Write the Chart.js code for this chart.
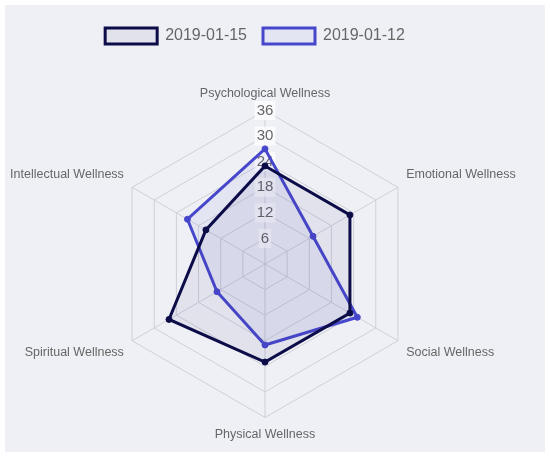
<!DOCTYPE html>
<html>
<head>
<meta charset="utf-8">
<script src="https://cdn.jsdelivr.net/npm/chart.js@4"></script>
<style>
  body { margin: 0; background: #fff; }
  #wrap { position: absolute; left: 5px; top: 5px; width: 540px; height: 447px; background: #eff0f6; }
</style>
</head>
<body>
<div id="wrap"><canvas id="radar"></canvas></div>
<script>
const categories = ["Psychological Wellness", "Emotional Wellness", "Social Wellness",
  "Physical Wellness", "Spiritual Wellness", "Intellectual Wellness"];
const seriesNames = ["2019-01-15", "2019-01-12"];
const values0115 = [23, 23, 23, 23, 26, 16];
const values0112 = [27, 13, 25, 19, 13, 21];
const tickMax = 36;
const tickStep = 6;

const ctx = document.getElementById("radar").getContext("2d");
const FONT = "Helvetica, Arial, 'Liberation Sans'";

// extra room under the legend, and nudge it a bit left
const legendSpacer = {
  id: "legendSpacer",
  beforeInit(chart) {
    const fit = chart.legend.fit;
    chart.legend.fit = function () {
      fit.bind(chart.legend)();
      this.height += 32;
    };
  },
  afterLayout(chart) {
    chart.legend.left -= 8;
    chart.legend.right -= 8;
  }
};

const radar = new Chart(ctx, {
  type: "radar",
  data: {
    labels: categories,
    datasets: [{
      label: seriesNames[0],
      data: values0115,
      borderColor: "#0c0c48",
      backgroundColor: "rgba(40,40,110,0.07)",
      pointBackgroundColor: "#0c0c48",
      borderWidth: 3,
      pointRadius: 3,
      pointBorderWidth: 1
    }, {
      label: seriesNames[1],
      data: values0112,
      borderColor: "#4747cc",
      backgroundColor: "rgba(71,71,204,0.06)",
      pointBackgroundColor: "#4747cc",
      borderWidth: 3,
      pointRadius: 3,
      pointBorderWidth: 1
    }]
  },
  options: {
    responsive: true,
    maintainAspectRatio: false,
    animation: false,
    layout: { padding: { top: 7, bottom: 10, right: 24 } },
    plugins: {
      legend: {
        labels: {
          boxWidth: 52,
          boxHeight: 16,
          color: "#666",
          padding: 16,
          font: { family: FONT, size: 16 }
        }
      },
      tooltip: { enabled: false }
    },
    scales: {
      r: {
        min: 0,
        max: tickMax,
        ticks: {
          stepSize: tickStep,
          color: "#666",
          font: { family: FONT, size: 15 }
        },
        grid: { color: "#cfcfd6" },
        angleLines: { color: "#cfcfd6" },
        pointLabels: {
          color: "#666",
          padding: 0,
          font: { family: FONT, size: 12.5 }
        }
      }
    }
  },
  plugins: [legendSpacer]
});
</script>
</body>
</html>
